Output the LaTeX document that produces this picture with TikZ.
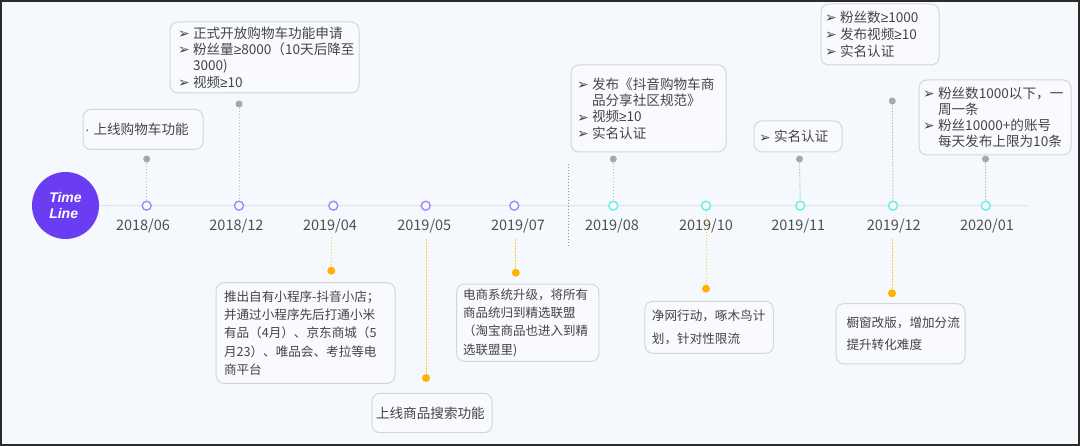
\documentclass[tikz,border=0pt]{standalone}
\usepackage{fontspec}
\setmainfont{Noto Sans CJK SC}
\newfontfamily\dvsans{DejaVu Sans}
\newfontfamily\lsans{Liberation Sans}
\definecolor{bg}{HTML}{F5F8FD}
\definecolor{boxfill}{HTML}{F8FAFE}
\definecolor{boxline}{HTML}{D4D6D9}
\definecolor{txt}{HTML}{444444}
\definecolor{datetxt}{HTML}{505050}
\definecolor{axiscol}{HTML}{E0E3E8}
\definecolor{purp}{HTML}{A47EFF}
\definecolor{cyanc}{HTML}{5EF0E6}
\definecolor{tldisc}{HTML}{6A3DF2}
\definecolor{gdot}{HTML}{A8A8A8}
\definecolor{gline}{HTML}{BDBDBD}
\definecolor{ydot}{HTML}{FFB300}
\definecolor{yline}{HTML}{FFCB3D}
\definecolor{framecol}{HTML}{2B2B2B}
\newcommand\bl{\makebox[15pt][l]{\raisebox{-0.3pt}{\dvsans\fontsize{14}{14}\selectfont ➢}}}
\newcommand\ind{\hspace*{15pt}}
\newcommand\gq{{\lsans ≥}}
\begin{document}
\begin{tikzpicture}[x=1pt,y=-1pt,
  box/.style={draw=boxline, fill=boxfill, line width=1pt, rounded corners=8pt,
    inner ysep=0pt, align=left, text=txt},
  datelbl/.style={font=\fontsize{14.5}{16}\selectfont, text=datetxt, inner sep=0pt},
  pcirc/.style={circle, draw=purp, fill=bg, line width=1.3pt, minimum size=9pt, inner sep=0pt},
  ccirc/.style={circle, draw=cyanc, fill=bg, line width=1.3pt, minimum size=9pt, inner sep=0pt},
  gdotst/.style={circle, fill=gdot, minimum size=7pt, inner sep=0pt},
  ydotst/.style={circle, fill=ydot, minimum size=8pt, inner sep=0pt},
  gconn/.style={draw=gline, line width=1pt, dash pattern=on 1.5pt off 1.5pt},
  yconn/.style={draw=yline, line width=1pt, dash pattern=on 1.5pt off 1.5pt},
  sepline/.style={draw=gray!80, line width=1pt, dash pattern=on 1.5pt off 1.5pt},
  ftop/.style={font=\fontsize{13.6}{16.3}\selectfont},
  fbot/.style={font=\fontsize{12.6}{18.3}\selectfont}
]
\useasboundingbox (0,0) rectangle (1080,446);
\fill[bg] (0,0) rectangle (1080,446);
\draw[framecol, line width=2pt] (1,1) rectangle (1079,445);

% timeline disc and axis
\node[circle, fill=tldisc, minimum size=67pt, inner sep=0pt, text=white, align=left,
  font=\lsans\bfseries\itshape\fontsize{14}{16}\selectfont] (tl) at (65.5,205.5) {Time\\Line};
\coordinate (axend) at (1029,205.7);
\draw[axiscol, line width=1pt] (tl.east) -- (axend);

% circles
\node[pcirc] (c1) at (146.7,205.7) {};
\node[pcirc] (c2) at (239,205.7) {};
\node[pcirc] (c3) at (333.3,205.7) {};
\node[pcirc] (c4) at (425.7,205.7) {};
\node[pcirc] (c5) at (514.3,205.7) {};
\node[ccirc] (c6) at (613.3,205.7) {};
\node[ccirc] (c7) at (706,205.7) {};
\node[ccirc] (c8) at (800.3,205.7) {};
\node[ccirc] (c9) at (893,205.7) {};
\node[ccirc] (c10) at (985.7,205.7) {};

% date labels
\node[datelbl] (d1) at (143,226) {2018/06};
\node[datelbl] (d2) at (236.4,226) {2018/12};
\node[datelbl] (d3) at (330,226) {2019/04};
\node[datelbl] (d4) at (424.3,226) {2019/05};
\node[datelbl] (d5) at (518,226) {2019/07};
\node[datelbl] (d6) at (612,226) {2019/08};
\node[datelbl] (d7) at (706,226) {2019/10};
\node[datelbl] (d8) at (798.3,226) {2019/11};
\node[datelbl] (d9) at (893.8,226) {2019/12};
\node[datelbl] (d10) at (987,226) {2020/01};

% separator
\coordinate (sepT) at (568.5,164);
\coordinate (sepB) at (568.5,247);
\draw[sepline] (sepT) -- (sepB);

% top gray dots and connectors
\node[gdotst] (g1) at (146.7,159) {};
\node[gdotst] (g2) at (239,104) {};
\node[gdotst] (g6) at (613.3,159) {};
\node[gdotst] (g8) at (799.5,159) {};
\node[gdotst] (g9) at (892.3,101) {};
\node[gdotst] (g10) at (985.5,159) {};
\draw[gconn] (g1) -- (c1);
\draw[gconn] (g2) -- (c2);
\draw[gconn] (g6) -- (c6);
\draw[gconn] (g8) -- (c8);
\draw[gconn] (g9) -- (c9);
\draw[gconn] (g10) -- (c10);

% bottom yellow dots and connectors
\coordinate (s3) at (331.3,237);
\coordinate (s4) at (426,239.3);
\coordinate (s5) at (515.8,239.3);
\coordinate (s9) at (892,239.3);
\node[ydotst] (y3) at (331.3,270.7) {};
\node[ydotst] (y4) at (426,378) {};
\node[ydotst] (y5) at (515.8,272.7) {};
\node[ydotst] (y7) at (706,288.7) {};
\node[ydotst] (y9) at (892,293.3) {};
\draw[yconn] (s3) -- (y3);
\draw[yconn] (s4) -- (y4);
\draw[yconn] (s5) -- (y5);
\draw[yconn] (c7) -- (y7);
\draw[yconn] (s9) -- (y9);

% top boxes
\node[box, ftop, minimum width=120pt, minimum height=40pt, text width=116pt, inner xsep=2pt]
  (b1) at (143,129.5) {{\lsans ·}\hspace{4pt}上线购物车功能};
\node[box, ftop, minimum width=189pt, minimum height=71pt, text width=173pt, inner xsep=8pt]
  (b2) at (264.5,57.5) {\bl 正式开放购物车功能申请\\\bl 粉丝量\gq 8000（10天后降至\\\ind 3000)\\\bl 视频\gq 10};
\node[box, ftop, minimum width=155pt, minimum height=87pt, text width=143pt, inner xsep=6pt]
  (b3) at (648.5,108.5) {\bl 发布《抖音购物车商\\\ind 品分享社区规范》\\\bl 视频\gq 10\\\bl 实名认证};
\node[box, ftop, minimum width=88pt, minimum height=31pt, text width=78pt, inner xsep=5pt]
  (b4) at (798,136.5) {\bl 实名认证};
\node[box, font=\fontsize{13.6}{17}\selectfont, minimum width=118pt, minimum height=61pt, text width=110pt, inner xsep=4pt]
  (b5) at (880,34.5) {\bl 粉丝数\gq 1000\\\bl 发布视频\gq 10\\\bl 实名认证};
\node[box, font=\fontsize{13.6}{16}\selectfont, minimum width=152pt, minimum height=75pt, text width=144pt, inner xsep=4pt]
  (b6) at (995,117.5) {\bl 粉丝数1000以下，一\\\ind 周一条\\\bl 粉丝10000+的账号\\\ind 每天发布上限为10条};

% bottom boxes
\node[box, fbot, minimum width=179pt, minimum height=100.6pt, text width=163pt, inner xsep=8pt]
  (b7) at (305.5,333) {推出自有小程序-抖音小店；\\并通过小程序先后打通小米\\有品（4月）、京东商城（5\\月23）、唯品会、考拉等电\\商平台};
\node[box, ftop, minimum width=120pt, minimum height=39.4pt, text width=112pt, inner xsep=4pt]
  (b8) at (432,413) {上线商品搜索功能};
\node[box, font=\fontsize{12.5}{18.3}\selectfont, minimum width=142.3pt, minimum height=77.3pt, text width=129.3pt, inner xsep=6.5pt]
  (b9) at (527.8,322.7) {电商系统升级，将所有\\商品统归到精选联盟\\（淘宝商品也进入到精\\选联盟里)};
\node[box, font=\fontsize{12.6}{22.6}\selectfont, minimum width=128.5pt, minimum height=52pt, text width=114.5pt, inner xsep=7pt]
  (b10) at (709.2,327.3) {净网行动，啄木鸟计\\划，针对性限流};
\node[box, font=\fontsize{12.6}{22.3}\selectfont, minimum width=129pt, minimum height=60.3pt, text width=108pt, inner xsep=10.5pt]
  (b11) at (900.5,333.8) {橱窗改版，增加分流\\提升转化难度};
\end{tikzpicture}
\end{document}
